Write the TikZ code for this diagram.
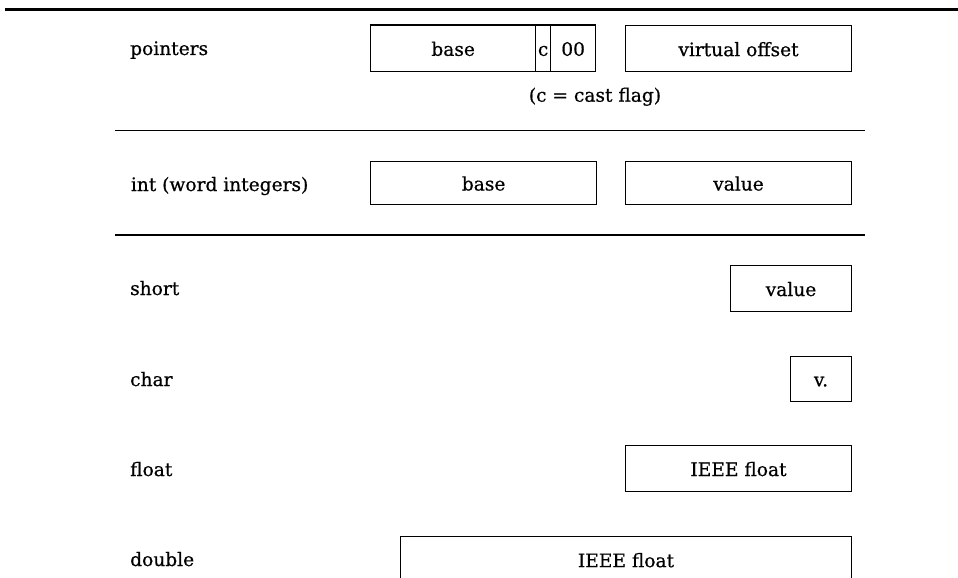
\documentclass[tikz,border=0pt]{standalone}
\usepackage{fontspec}
\setmainfont[FakeBold=0.6]{DejaVu Serif}
\begin{document}
\begin{tikzpicture}[x=1pt,y=1pt,
  txt/.style={font=\fontsize{18.6}{22}\selectfont, inner sep=0pt},
  lbl/.style={txt, anchor=base west},
  cell/.style={txt, draw, line width=1.3pt, text height=15pt, text depth=0pt, anchor=north west},
  sep/.style={line width=1.3pt}]
\clip (0,0) rectangle (958,-578);
\useasboundingbox (0,0) rectangle (958,-578);
% top rule
\coordinate (tl) at (5,-9.3);
\coordinate (tr) at (958,-9.3);
\draw[line width=3pt] (tl) -- (tr);
% pointers row
\node[lbl] (lp) at (130,-55) {pointers};
\node[cell, minimum width=165pt, minimum height=46.7pt] (pbase) at (370,-24.3) {base};
\node[cell, minimum width=15pt, minimum height=46.7pt] (pc) at (535,-24.3) {c};
\node[cell, minimum width=45pt, minimum height=46.7pt] (p00) at (550,-24.3) {00};
\node[cell, minimum width=225.7pt, minimum height=46pt] (pvo) at (625,-25) {virtual offset};
\node[txt, anchor=base] (cast) at (595,-101.7) {(c = cast flag)};
\coordinate (s1a) at (115,-130.5);
\coordinate (s1b) at (865,-130.5);
\draw[sep] (s1a) -- (s1b);
% int row
\node[lbl] (li) at (130.7,-191) {int (word integers)};
\node[cell, minimum width=226pt, minimum height=43.3pt] (ibase) at (370,-160.7) {base};
\node[cell, minimum width=225.7pt, minimum height=43.3pt] (ival) at (625,-160.7) {value};
\coordinate (s2a) at (115,-235);
\coordinate (s2b) at (865,-235);
\draw[sep] (s2a) -- (s2b);
% short
\node[lbl] (ls) at (130,-295) {short};
\node[cell, minimum width=120.7pt, minimum height=45.7pt] (sval) at (730,-265) {value};
% char
\node[lbl] (lc) at (130,-386) {char};
\node[cell, minimum width=60.7pt, minimum height=45pt] (cval) at (790,-355.7) {v.};
% float
\node[lbl] (lf) at (130,-476) {float};
\node[cell, minimum width=225.7pt, minimum height=45.7pt] (fval) at (625,-445) {IEEE float};
% double
\node[lbl] (ld) at (130,-566) {double};
\node[cell, minimum width=450.7pt, minimum height=46pt] (dval) at (400,-536) {IEEE float};
\end{tikzpicture}
\end{document}
